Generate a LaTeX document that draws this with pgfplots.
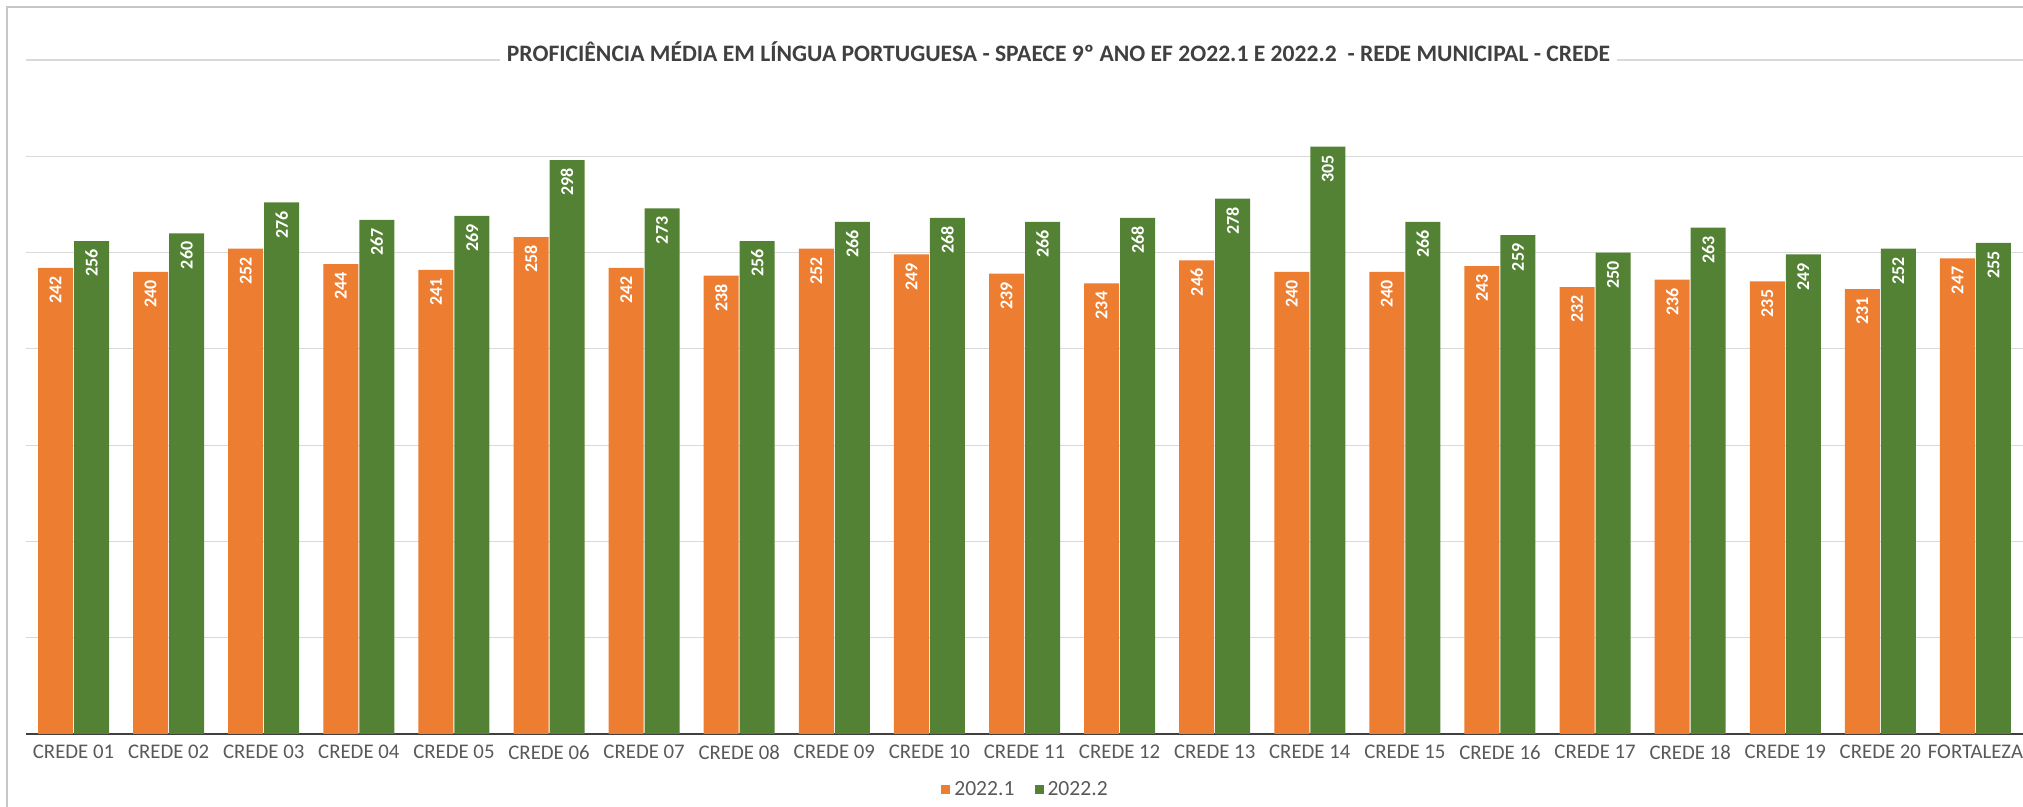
\documentclass[border=0pt]{standalone}
\usepackage{pgfplots}
\pgfplotsset{compat=1.18}
\usepackage{fontspec}
\setmainfont{Carlito}
\definecolor{laranja}{HTML}{ED7D31}
\definecolor{verde}{HTML}{548235}
\definecolor{grade}{HTML}{D9D9D9}
\definecolor{texto}{HTML}{595959}
\definecolor{titulo}{HTML}{404040}

\begin{document}
\begin{tikzpicture}
\useasboundingbox (-13pt,-36.5pt) rectangle (998.5pt,367pt);
\clip (-13pt,-36.5pt) rectangle (998.5pt,367pt);
\draw[gray!45, line width=0.7pt] (-9.5pt,-80pt) rectangle (1040pt,363.5pt);
\begin{axis}[
  at={(0pt,0pt)}, anchor=south west,
  width=998.5pt, height=337pt, scale only axis,
  /pgf/number format/assume math mode=true,
  ybar, bar width=17.5pt,
  ymin=0, ymax=350, ytick={0,50,...,350}, yticklabels={},
  ymajorgrids, grid style={grade, line width=0.6pt},
  xmin=-0.5, xmax=20.5, enlarge x limits=false,
  xtick={0,...,20},
  xticklabels={CREDE 01,CREDE 02,CREDE 03,CREDE 04,CREDE 05,CREDE 06,CREDE 07,
    CREDE 08,CREDE 09,CREDE 10,CREDE 11,CREDE 12,CREDE 13,CREDE 14,CREDE 15,
    CREDE 16,CREDE 17,CREDE 18,CREDE 19,CREDE 20,FORTALEZA},
  xticklabel style={font=\fontsize{10.4}{12}\selectfont, text=texto, yshift=-2pt},
  axis x line*=bottom, axis y line*=left,
  y axis line style={draw=none},
  x axis line style={draw=titulo, line width=0.9pt},
  major tick length=0pt,
  title={PROFICIÊNCIA MÉDIA EM LÍNGUA PORTUGUESA - SPAECE 9º ANO EF 2O22.1 E 2022.2 \ - REDE MUNICIPAL - CREDE},
  title style={at={(0.517,1)}, anchor=center, yshift=-2pt, fill=white,
    font=\bfseries\fontsize{11.8}{13}\selectfont, text=titulo},
  nodes near coords,
  every node near coord/.append style={rotate=90, anchor=east, inner xsep=4pt,
    text=white, font=\bfseries\fontsize{9}{10}\selectfont},
  legend columns=2,
  legend style={at={(0.501,0)}, anchor=center, yshift=-28pt, draw=none, fill=none,
    font=\fontsize{10.8}{12}\selectfont, text=texto,
    /tikz/every even column/.append style={column sep=8pt}},
  legend image code/.code={\fill[#1] (0pt,-2.25pt) rectangle (4.5pt,2.25pt);},
]
\addplot[fill=laranja, draw=none, bar shift=-9pt] coordinates {
(0,242) (1,240) (2,252) (3,244) (4,241) (5,258) (6,242) (7,238) (8,252) (9,249)
(10,239) (11,234) (12,246) (13,240) (14,240) (15,243) (16,232) (17,236) (18,235)
(19,231) (20,247)
};
\addplot[fill=verde, draw=none, bar shift=9pt] coordinates {
(0,256) (1,260) (2,276) (3,267) (4,269) (5,298) (6,273) (7,256) (8,266) (9,268)
(10,266) (11,268) (12,278) (13,305) (14,266) (15,259) (16,250) (17,263) (18,249)
(19,252) (20,255)
};
\legend{2022.1,2022.2}
\end{axis}
\end{tikzpicture}
\end{document}
